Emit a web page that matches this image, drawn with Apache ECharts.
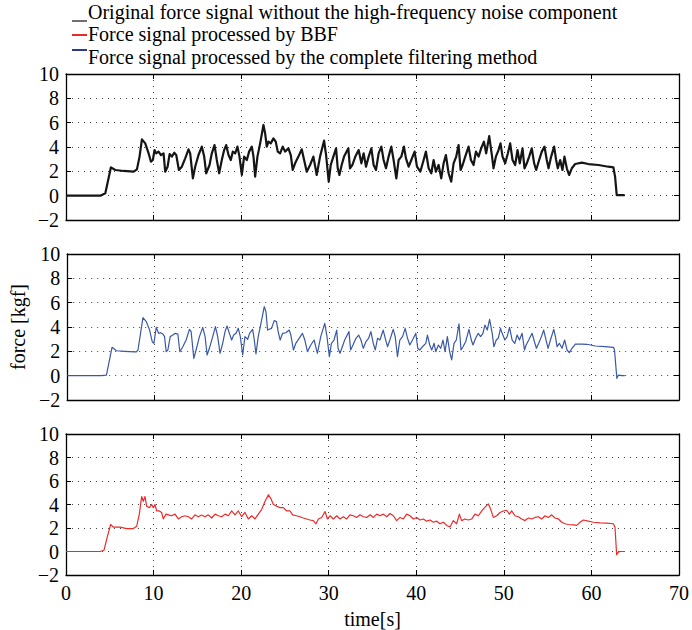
<!DOCTYPE html>
<html><head><meta charset="utf-8">
<script src="https://cdn.jsdelivr.net/npm/echarts@6/dist/echarts.min.js"></script>
<style>html,body{margin:0;padding:0;background:#fff}#c{width:692px;height:630px}</style>
</head><body><div id="c"></div>
<script>
const legendNames = [
  'Original force signal without the high-frequency noise component',
  'Force signal processed by BBF',
  'Force signal processed by the complete filtering method'
];
const xLabel = 'time[s]';
const yLabel = 'force [kgf]';

// Top panel: original signal (black), [time s, force kgf]
const blackSignal = [[0,0],[3.92,0],[4.49,0.19],[5.13,2.33],[5.63,2.11],[6.58,2.03],[7.72,1.97],[8.10,2.16],[8.40,3.21],[8.67,4.63],[9.05,4.30],[9.43,3.48],[9.70,2.79],[9.92,2.93],[10.11,3.75],[10.30,3.48],[10.57,3.62],[10.84,3.34],[11.14,3.48],[11.33,1.97],[11.60,2.38],[11.83,3.42],[12.09,3.21],[12.36,3.53],[12.59,3.34],[12.89,2.11],[13.23,2.38],[13.61,3.07],[13.99,3.81],[14.18,3.48],[14.49,1.42],[14.75,2.38],[15.13,3.34],[15.51,4.03],[15.78,3.21],[16.01,1.84],[16.39,2.52],[16.65,3.48],[16.96,4.16],[17.22,2.93],[17.49,1.84],[17.79,2.93],[18.06,3.75],[18.29,4.16],[18.56,3.34],[18.82,2.93],[19.05,3.62],[19.32,3.48],[19.58,4.03],[19.81,3.21],[20.08,1.70],[20.34,3.21],[20.65,2.93],[20.91,3.62],[21.22,4.03],[21.41,3.21],[21.60,1.56],[21.86,3.21],[22.17,4.30],[22.55,5.81],[22.74,5.12],[22.93,4.03],[23.12,4.44],[23.38,4.30],[23.69,4.71],[23.95,4.44],[24.18,3.62],[24.45,3.48],[24.75,4.03],[25.02,3.62],[25.40,3.89],[25.67,3.34],[25.89,2.11],[26.16,2.66],[26.54,3.21],[26.92,3.81],[27.19,2.93],[27.49,1.97],[27.87,2.52],[28.25,3.21],[28.63,1.70],[29.01,3.21],[29.47,4.52],[29.70,3.34],[30.00,1.15],[30.23,2.52],[30.53,3.21],[30.84,3.89],[31.03,2.25],[31.22,1.70],[31.48,2.52],[31.75,3.21],[32.24,3.89],[32.43,2.25],[32.70,2.52],[33.04,3.21],[33.42,3.75],[33.73,2.66],[33.99,3.48],[34.26,2.38],[34.56,3.21],[34.87,3.89],[35.13,2.52],[35.40,2.11],[35.70,3.48],[36.01,4.03],[36.27,2.93],[36.54,2.25],[36.84,3.21],[37.15,4.03],[37.41,2.93],[37.72,1.42],[37.98,2.93],[38.29,3.21],[38.59,4.03],[38.82,3.07],[39.13,2.38],[39.43,2.93],[39.81,3.62],[40.08,2.38],[40.46,1.97],[40.84,2.93],[41.10,3.62],[41.41,2.25],[41.71,1.84],[41.98,2.93],[42.24,1.97],[42.55,2.52],[42.85,1.42],[43.12,2.66],[43.38,3.34],[43.69,1.84],[43.99,1.15],[44.26,2.66],[44.56,3.21],[44.83,4.16],[45.06,2.11],[45.29,2.52],[45.59,3.21],[45.97,4.03],[46.24,2.93],[46.54,2.52],[46.81,3.62],[47.11,3.21],[47.41,3.89],[47.72,4.44],[47.98,3.48],[48.33,4.90],[48.63,3.34],[48.82,2.25],[49.09,3.21],[49.39,3.75],[49.62,4.30],[49.85,3.21],[50.15,2.66],[50.46,3.48],[50.72,4.30],[50.99,2.93],[51.29,2.52],[51.56,3.75],[51.82,2.66],[52.13,3.89],[52.36,2.25],[52.62,2.66],[52.89,3.21],[53.19,3.89],[53.46,2.66],[53.69,2.11],[54.03,2.93],[54.33,3.62],[54.64,4.03],[54.90,2.93],[55.10,2.25],[55.40,3.21],[55.74,4.03],[55.97,2.93],[56.16,2.25],[56.43,2.93],[56.69,2.11],[56.92,3.21],[57.19,2.25],[57.45,1.70],[57.76,2.25],[58.14,2.60],[58.90,2.71],[59.66,2.60],[60.80,2.52],[61.94,2.38],[62.51,2.33],[62.70,1.56],[62.89,0.05],[63.46,0.05],[63.80,0.05]];

// Middle panel: complete filtering method (blue)
const blueSignal = [[0,0],[3.92,0],[4.49,0.05],[5.13,2.33],[5.63,2.05],[6.58,2.00],[7.72,1.95],[7.91,1.95],[8.10,2.11],[8.67,4.77],[9.05,4.44],[9.43,3.75],[9.73,2.79],[9.92,2.66],[10.19,3.97],[10.46,3.48],[10.68,3.53],[10.95,3.42],[11.14,3.21],[11.33,1.97],[11.52,2.11],[11.79,3.21],[12.09,3.34],[12.36,3.48],[12.66,3.42],[12.89,1.97],[13.23,2.38],[13.61,2.93],[13.99,3.81],[14.18,3.62],[14.49,1.42],[14.75,2.11],[15.13,3.21],[15.51,3.97],[15.78,3.21],[16.01,1.70],[16.27,2.25],[16.65,3.21],[16.96,4.03],[17.22,3.21],[17.49,1.84],[17.79,2.66],[18.06,3.62],[18.29,4.08],[18.56,3.48],[18.82,2.93],[19.05,3.34],[19.32,3.48],[19.58,3.89],[19.81,3.21],[20.08,1.70],[20.34,3.21],[20.65,2.99],[20.87,3.48],[21.22,3.81],[21.41,2.93],[21.60,1.78],[21.86,3.21],[22.17,4.30],[22.55,5.67],[22.74,5.26],[22.93,3.75],[23.12,3.81],[23.38,3.89],[23.69,4.52],[23.95,4.44],[24.14,3.62],[24.37,2.93],[24.65,3.48],[25.02,3.53],[25.40,3.75],[25.59,3.34],[25.89,2.11],[26.16,2.66],[26.54,3.07],[26.92,3.48],[27.19,2.93],[27.49,1.97],[27.87,2.52],[28.25,2.93],[28.63,1.84],[29.01,3.21],[29.47,4.30],[29.70,3.34],[30.00,1.56],[30.23,2.66],[30.53,2.93],[30.84,3.75],[30.99,2.25],[31.22,1.84],[31.48,2.38],[31.75,2.93],[32.24,3.62],[32.43,2.11],[32.70,2.52],[33.04,3.07],[33.35,3.34],[33.61,2.93],[33.88,2.25],[34.18,2.79],[34.49,3.07],[34.75,3.62],[35.02,2.66],[35.25,2.11],[35.51,3.07],[35.78,2.93],[36.16,3.75],[36.39,3.07],[36.65,2.38],[36.92,2.93],[37.30,3.81],[37.53,3.21],[37.79,1.56],[38.06,2.93],[38.37,3.21],[38.67,3.89],[38.94,3.07],[39.20,2.52],[39.51,2.93],[39.89,3.48],[40.11,2.25],[40.34,2.11],[40.65,2.38],[41.03,2.66],[41.22,3.34],[41.48,2.52],[41.71,2.11],[41.98,2.66],[42.17,1.97],[42.47,2.52],[42.74,2.25],[43.00,2.93],[43.23,1.97],[43.50,3.21],[43.76,1.97],[43.99,1.29],[44.26,2.66],[44.52,2.93],[44.83,4.25],[45.06,2.11],[45.29,2.38],[45.59,2.79],[45.97,3.81],[46.24,2.93],[46.43,2.52],[46.73,3.07],[47.03,3.48],[47.30,3.21],[47.57,3.48],[47.79,4.16],[48.06,3.75],[48.33,4.63],[48.63,3.48],[48.82,2.38],[49.09,2.93],[49.32,3.07],[49.58,3.89],[49.77,3.48],[50.08,2.93],[50.34,3.21],[50.61,3.97],[50.91,2.93],[51.22,2.66],[51.48,3.34],[51.75,2.93],[52.05,3.48],[52.32,2.11],[52.51,2.52],[52.81,2.93],[53.19,3.48],[53.46,2.79],[53.69,2.25],[53.95,2.66],[54.26,3.21],[54.52,3.75],[54.79,2.93],[55.02,2.25],[55.29,2.93],[55.67,3.81],[55.86,3.21],[56.05,2.38],[56.31,2.66],[56.62,2.25],[56.92,2.93],[57.19,2.11],[57.45,1.89],[57.76,2.25],[58.14,2.60],[58.90,2.60],[59.47,2.58],[60.42,2.44],[61.56,2.38],[62.51,2.33],[62.62,2.11],[62.89,-0.22],[63.08,0.05],[63.46,0],[63.80,0]];

// Bottom panel: BBF (red)
const redSignal = [[0,0],[3.88,0],[4.34,0.11],[4.72,1.26],[5.10,2.30],[5.41,2.08],[6.17,2.08],[6.93,1.95],[7.69,1.95],[8.07,2.14],[8.37,3.18],[8.64,4.68],[8.83,4.27],[9.02,4.68],[9.21,3.86],[9.52,3.73],[9.78,4.00],[9.97,3.73],[10.16,4.00],[10.35,3.45],[10.66,3.45],[10.92,3.32],[11.11,2.77],[11.42,3.18],[11.69,3.12],[12.07,3.04],[12.45,3.18],[12.83,2.77],[13.21,2.96],[13.59,3.04],[13.97,2.96],[14.35,2.77],[14.73,3.12],[15.11,2.96],[15.49,3.10],[15.87,2.96],[16.25,3.12],[16.64,2.85],[17.02,3.18],[17.40,3.04],[17.78,2.96],[18.16,3.18],[18.54,3.04],[18.92,3.45],[19.30,3.12],[19.68,3.45],[20.06,2.96],[20.44,3.32],[20.82,2.77],[21.20,3.04],[21.58,2.77],[21.96,3.18],[22.35,3.59],[22.73,4.27],[23.11,4.82],[23.37,4.55],[23.68,4.00],[24.06,3.86],[24.44,3.73],[24.82,3.73],[25.20,3.45],[25.58,3.45],[25.88,3.12],[26.34,3.04],[26.72,2.96],[27.10,2.85],[27.48,2.77],[27.86,2.68],[28.24,2.63],[28.55,2.36],[28.82,2.77],[29.20,2.90],[29.58,3.40],[29.85,2.77],[30.15,3.04],[30.53,2.77],[30.91,3.04],[31.29,2.77],[31.67,2.96],[32.05,2.77],[32.43,3.12],[32.81,3.04],[33.19,2.90],[33.58,3.12],[33.96,2.96],[34.34,2.90],[34.72,3.12],[35.10,2.90],[35.48,3.18],[35.86,3.04],[36.24,3.18],[36.62,2.96],[37.00,3.23],[37.38,3.04],[37.76,2.63],[38.14,2.90],[38.52,2.77],[38.90,3.18],[39.28,3.04],[39.66,2.77],[40.04,2.90],[40.42,2.68],[40.81,2.77],[41.19,2.58],[41.57,2.68],[41.95,2.49],[42.33,2.58],[42.71,2.36],[43.09,2.49],[43.47,2.22],[43.85,2.08],[44.23,2.63],[44.61,2.36],[44.92,3.18],[45.18,2.63],[45.56,2.77],[45.94,2.68],[46.33,2.77],[46.71,3.18],[47.09,3.04],[47.47,3.45],[47.85,3.78],[48.23,4.05],[48.50,3.59],[48.80,2.90],[49.18,3.04],[49.56,3.32],[49.94,3.45],[50.32,3.51],[50.63,3.18],[50.89,3.45],[51.27,3.04],[51.65,2.96],[52.04,2.77],[52.42,2.63],[52.80,2.85],[53.18,2.77],[53.56,2.90],[53.94,2.96],[54.32,2.77],[54.70,3.04],[55.08,2.90],[55.46,3.12],[55.84,2.85],[56.23,2.77],[56.61,2.49],[56.99,2.36],[57.37,2.30],[57.94,2.27],[58.32,2.22],[58.70,2.49],[59.08,2.68],[59.65,2.58],[60.22,2.49],[60.98,2.44],[61.74,2.41],[62.50,2.36],[62.69,2.08],[62.88,-0.27],[63.07,-0.05],[63.26,0],[63.80,0]];

const xMin = 0, xMax = 70, xStep = 10;
const yMin = -2, yMax = 10, yStep = 2;

const chart = echarts.init(document.getElementById('c'), null, {renderer: 'svg'});
const FONT = 'Liberation Serif';
const FS = 20;
const tops = [74, 254, 434];
const H = 146;
const panelSeries = [
  {data: blackSignal, color: '#151515', width: 2.2},
  {data: blueSignal, color: '#3a58a8', width: 1.2},
  {data: redSignal, color: '#ee2a2a', width: 1.2}
];
const grid = tops.map(t => ({left: 66, right: 13, top: t, height: H, containLabel: false}));
const axLine = {show: true, onZero: false, lineStyle: {color: '#000', width: 1.3}};
const tick = {show: true, inside: true, length: 5, lineStyle: {color: '#000', width: 1}};
const split = {show: true, lineStyle: {color: '#444', type: [1, 5], width: 1}};
const xAxis = [], yAxis = [], series = [];
tops.forEach((t, i) => {
  xAxis.push({type: 'value', gridIndex: i, position: 'bottom', min: xMin, max: xMax, interval: xStep,
    axisLine: axLine, axisTick: tick, splitLine: split,
    axisLabel: {show: i === 2, color: '#000', fontFamily: FONT, fontSize: FS, margin: 8},
    name: i === 2 ? xLabel : '', nameLocation: 'middle', nameGap: 34,
    nameTextStyle: {color: '#000', fontFamily: FONT, fontSize: FS}});
  xAxis.push({type: 'value', gridIndex: i, position: 'top', min: xMin, max: xMax, interval: xStep,
    axisLine: axLine, axisTick: tick, splitLine: {show: false}, axisLabel: {show: false}});
  yAxis.push({type: 'value', gridIndex: i, position: 'left', min: yMin, max: yMax, interval: yStep,
    axisLine: axLine, axisTick: tick, splitLine: split,
    axisLabel: {color: '#000', fontFamily: FONT, fontSize: FS, margin: 7,
      formatter: v => v < 0 ? '\u2212' + Math.abs(v) : String(v)},
    name: i === 1 ? yLabel : '', nameLocation: 'middle', nameGap: 32, nameRotate: 90,
    nameTextStyle: {color: '#000', fontFamily: FONT, fontSize: FS}});
  yAxis.push({type: 'value', gridIndex: i, position: 'right', min: yMin, max: yMax, interval: yStep,
    axisLine: axLine, axisTick: tick, splitLine: {show: false}, axisLabel: {show: false}});
  series.push({type: 'line', xAxisIndex: i * 2, yAxisIndex: i * 2, data: panelSeries[i].data,
    showSymbol: false, symbol: 'none', animation: false, silent: true,
    lineStyle: {color: panelSeries[i].color, width: panelSeries[i].width, join: 'round'}});
});

const legendColors = ['#707070', '#e82a2a', '#2b3990'];
const legendTextY = [13, 35, 58];
const legendMarkY = [21, 35, 50];
const graphic = [];
legendNames.forEach((n, i) => {
  graphic.push({type: 'line', shape: {x1: 72, y1: legendMarkY[i], x2: 87, y2: legendMarkY[i]},
    style: {stroke: legendColors[i], lineWidth: 2}});
  graphic.push({type: 'text', left: 88, top: legendTextY[i] - 11,
    style: {text: n, fill: '#000', fontFamily: FONT, fontSize: FS}});
});

chart.setOption({animation: false, grid, xAxis, yAxis, series, graphic});
</script></body></html>
